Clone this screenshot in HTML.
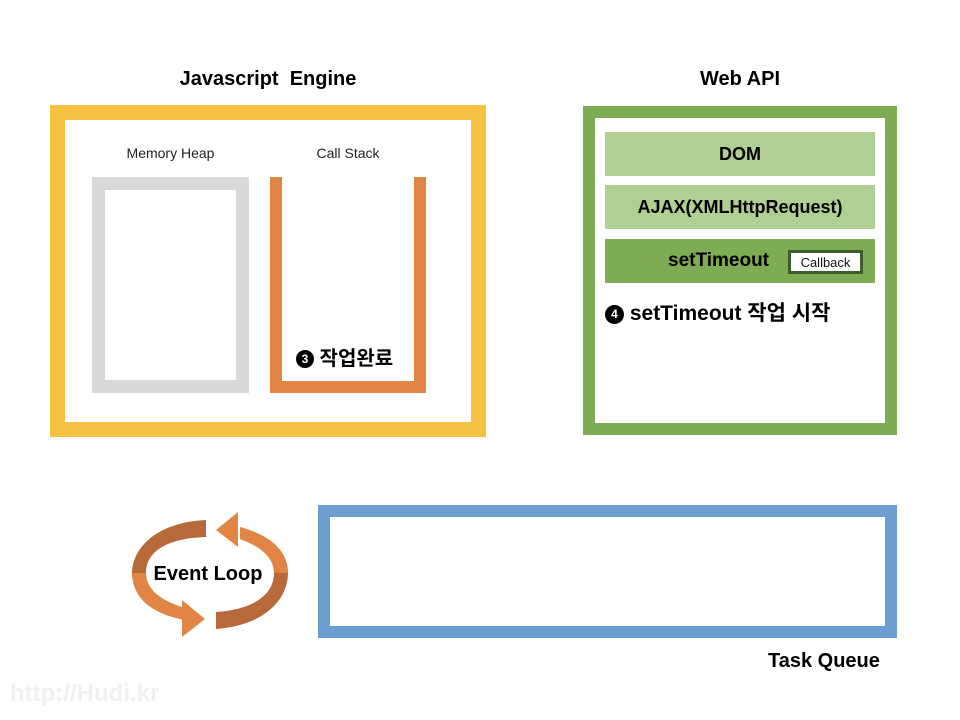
<!DOCTYPE html>
<html><head><meta charset="utf-8"><style>
body{margin:0;width:960px;height:720px;background:#fff;position:relative;overflow:hidden;font-family:"Liberation Sans","Noto Sans CJK KR",sans-serif;}
div{position:absolute;box-sizing:border-box;}
.t{white-space:nowrap;font-weight:bold;color:#000;}
.c{display:flex;align-items:center;justify-content:center;}
</style></head><body>
<div class="t" style="left:50px;width:436px;top:68px;text-align:center;font-size:20px;">Javascript&nbsp; Engine</div>
<div style="left:50px;top:105px;width:436px;height:332px;border:15px solid #f4c143;"></div>
<div style="left:92px;top:145px;width:157px;text-align:center;font-size:14px;color:#222;">Memory Heap</div>
<div style="left:270px;top:145px;width:156px;text-align:center;font-size:14px;color:#222;">Call Stack</div>
<div style="left:92px;top:177px;width:157px;height:216px;border:13px solid #d8d8d8;"></div>
<div style="left:270px;top:177px;width:156px;height:216px;border:12px solid #e08544;border-top:none;"></div>
<div class="t" style="left:296px;top:342px;font-size:20px;"><span style="display:inline-block;width:18px;height:18px;border-radius:50%;background:#000;color:#fff;font-size:12px;text-align:center;line-height:18px;vertical-align:2px;">3</span> 작업완료</div>

<div class="t" style="left:583px;width:314px;top:68px;text-align:center;font-size:20px;">Web API</div>
<div style="left:583px;top:106px;width:314px;height:329px;border:12px solid #7eac55;"></div>
<div class="c t" style="left:605px;top:132px;width:270px;height:44px;background:#b0cf93;font-size:18px;">DOM</div>
<div class="c t" style="left:605px;top:185px;width:270px;height:44px;background:#b0cf93;font-size:18px;">AJAX(XMLHttpRequest)</div>
<div class="t" style="left:605px;top:239px;width:270px;height:44px;background:#7eac55;font-size:19px;line-height:44px;padding-left:63px;">setTimeout</div>
<div class="c" style="left:788px;top:250px;width:75px;height:24px;border:3px solid #3f5d2a;background:#fff;font-size:13px;color:#111;">Callback</div>
<div class="t" style="left:605px;top:297px;font-size:21px;"><span style="display:inline-block;width:19px;height:19px;border-radius:50%;background:#000;color:#fff;font-size:12px;text-align:center;line-height:19px;vertical-align:2px;">4</span> setTimeout 작업 시작</div>

<div style="left:318px;top:505px;width:579px;height:133px;border:12px solid #6d9ed2;"></div>
<div class="t" style="left:768px;top:650px;font-size:20px;">Task Queue</div>

<svg style="position:absolute;left:0;top:0" width="960" height="720">
<path d="M206,520 C160,522 133,545 132,573 C133,598 150,613 185,620 L185,608 C158,600 146,588 146,573 C146,550 170,538 206,537 Z" fill="#b8693a"/>
<path d="M132,573 C133,598 150,613 185,620 L185,608 C158,600 146,588 146,573 Z" fill="#e08544"/>
<path d="M182,600 L205,619 L182,637 Z" fill="#e08544"/>
<path d="M216,629 C262,626 288,601 288,573 C288,552 272,536 240,527 L240,539 C262,547 274,558 274,573 C274,595 252,610 216,612 Z" fill="#b8693a"/>
<path d="M288,573 C288,552 272,536 240,527 L240,539 C262,547 274,558 274,573 Z" fill="#e08544"/>
<path d="M238,512 L216,530 L238,547 Z" fill="#e08544"/>
<text x="208" y="580" text-anchor="middle" font-family="Liberation Sans, sans-serif" font-weight="bold" font-size="20">Event Loop</text>
</svg>
<div class="t" style="left:10px;top:680px;font-size:24px;color:#f0f0f0;">http://Hudi.kr</div>
</body></html>
